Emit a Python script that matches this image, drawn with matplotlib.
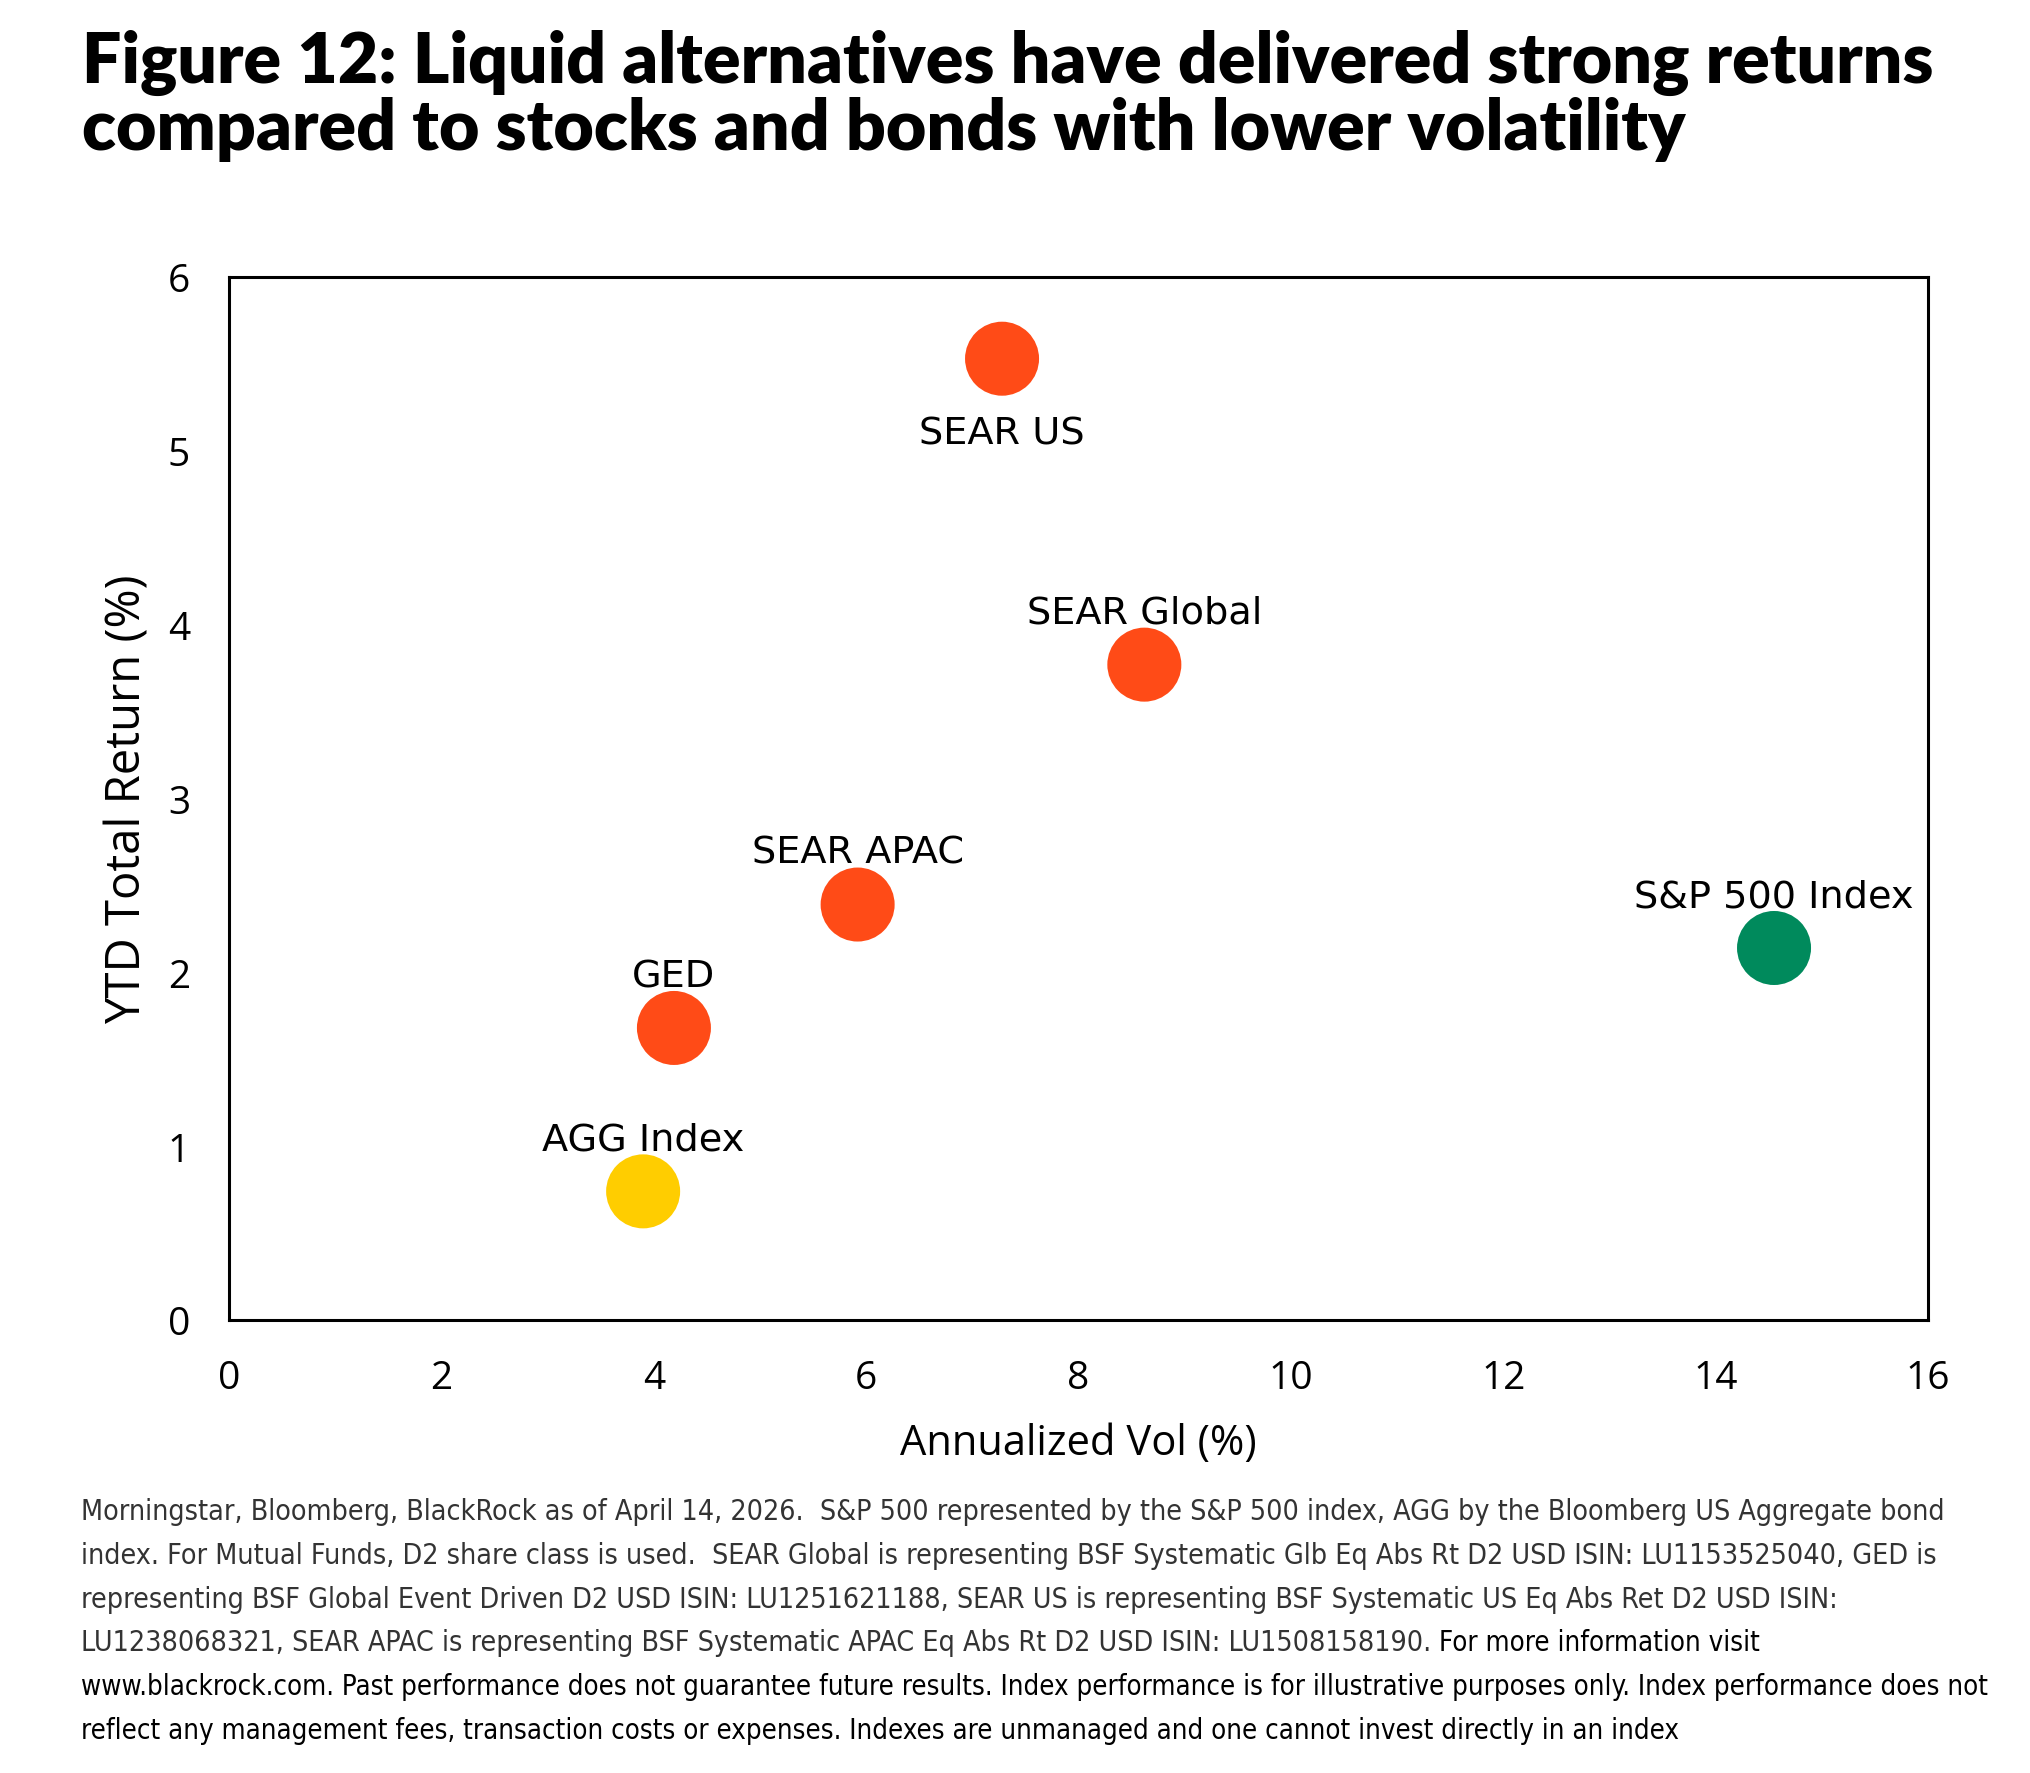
import matplotlib
matplotlib.use("Agg")
import matplotlib.pyplot as plt

# Chart data
names = ["SEAR US", "SEAR Global", "SEAR APAC", "GED", "AGG Index", "S&P 500 Index"]
annualized_vol = [7.28, 8.62, 5.92, 4.19, 3.90, 14.55]
ytd_return = [5.53, 3.77, 2.39, 1.68, 0.74, 2.14]
point_colors = ["#FF4B17", "#FF4B17", "#FF4B17", "#FF4B17", "#FFCD00", "#008A5C"]
label_below = [True, False, False, False, False, False]

x_ticks = [0, 2, 4, 6, 8, 10, 12, 14, 16]
y_ticks = [0, 1, 2, 3, 4, 5, 6]

title_lines = [
    "Figure 12: Liquid alternatives have delivered strong returns",
    "compared to stocks and bonds with lower volatility",
]

# (light part, regular part) for each footnote line
footnote_lines = [
    ("Morningstar, Bloomberg, BlackRock as of April 14, 2026.  S&P 500 represented by the S&P 500 index, AGG by the Bloomberg US Aggregate bond", ""),
    ("index. For Mutual Funds, D2 share class is used.  SEAR Global is representing BSF Systematic Glb Eq Abs Rt D2 USD ISIN: LU1153525040, GED is", ""),
    ("representing BSF Global Event Driven D2 USD ISIN: LU1251621188, SEAR US is representing BSF Systematic US Eq Abs Ret D2 USD ISIN:", ""),
    ("LU1238068321, SEAR APAC is representing BSF Systematic APAC Eq Abs Rt D2 USD ISIN: LU1508158190. ", "For more information visit"),
    ("", "www.blackrock.com. Past performance does not guarantee future results. Index performance is for illustrative purposes only. Index performance does not"),
    ("", "reflect any management fees, transaction costs or expenses. Indexes are unmanaged and one cannot invest directly in an index"),
]
# pixel width of each footnote line in the reference
footnote_widths = [1870, 1882, 1862, 1759, 1919, 1598]

W, H = 2030, 1774
fig = plt.figure(figsize=(W / 100, H / 100), dpi=100)
renderer = fig.canvas.get_renderer()


def fitted_size(text, target_px):
    # font size that makes the text span the wanted width
    w = text.get_window_extent(renderer).width
    return text.get_fontsize() * target_px / w


# Title, two lines, fitted to the width of the first line
title_font = ["Lato", "DejaVu Sans"]
t1 = fig.text(82 / W, 1 - 83 / H, title_lines[0], fontsize=44, fontweight="heavy",
              family=title_font, va="baseline", ha="left")
t1.set_fontsize(fitted_size(t1, 1855))
fig.text(82 / W, 1 - 150 / H, title_lines[1], fontsize=t1.get_fontsize(), fontweight="heavy",
         family=title_font, va="baseline", ha="left")

# Main scatter axes
ax = fig.add_axes([229 / W, 1 - 1321 / H, (1928 - 229) / W, (1321 - 278) / H])
ax.scatter(annualized_vol, ytd_return, s=2840, c=point_colors, linewidths=0, zorder=3)

for name, x, y, below in zip(names, annualized_vol, ytd_return, label_below):
    offset = -61 if below else 30
    ax.annotate(name, (x, y), xytext=(0, offset), textcoords="offset points",
                ha="center", va="baseline", fontsize=27.5, family="DejaVu Sans")

ax.set_xlim(0, 16)
ax.set_ylim(0, 6)
ax.set_xticks(x_ticks)
ax.set_yticks(y_ticks)
ax.tick_params(length=0, pad=28, labelsize=28)
for lab in ax.get_xticklabels() + ax.get_yticklabels():
    lab.set_family("Open Sans")
for spine in ax.spines.values():
    spine.set_linewidth(2.2)

ax.set_xlabel("Annualized Vol (%)", fontsize=30, family="Open Sans", labelpad=18)
ax.set_ylabel("YTD Total Return (%)", fontsize=34, family="Open Sans", labelpad=12)

# Footnote lines: the light part and the regular part each get one size,
# fitted to the lines written only in that style
foot_style = dict(family="DejaVu Sans", fontstretch="condensed", va="baseline", ha="left")
light_sizes = []
regular_sizes = []
for (light, regular), width in zip(footnote_lines, footnote_widths):
    if light and regular:
        continue
    probe = fig.text(0, 0, light + regular, fontsize=25, **foot_style)
    size = fitted_size(probe, width)
    probe.remove()
    if light:
        light_sizes.append(size)
    else:
        regular_sizes.append(size)
light_size = min(light_sizes)
regular_size = min(regular_sizes)

for i, (light, regular) in enumerate(footnote_lines):
    y = 1 - (1520 + 43.8 * i) / H
    x = 81 / W
    if light:
        tl = fig.text(x, y, light, fontsize=light_size, color="#333333", **foot_style)
        x = tl.get_window_extent(renderer).x1 / W
    if regular:
        fig.text(x, y, regular, fontsize=regular_size, color="black", **foot_style)

fig.savefig("out.png", dpi=100)
